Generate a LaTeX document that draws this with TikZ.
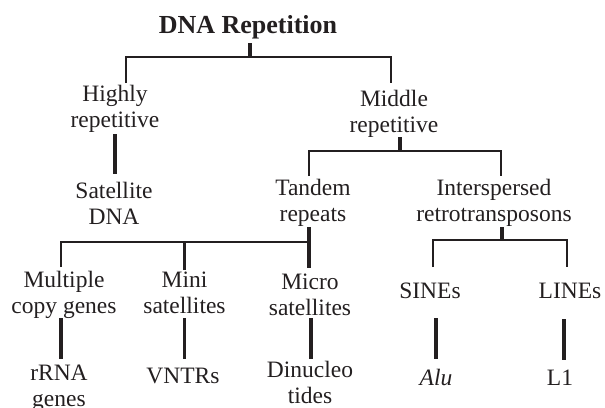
\documentclass[tikz,border=0pt]{standalone}
\usepackage{fontspec}
\setmainfont{Liberation Serif}
\definecolor{ink}{HTML}{231F20}
\newcommand\twol[2]{\vtop{\halign{\hfil##\hfil\cr #1\cr #2\cr}}}
\begin{document}
\begin{tikzpicture}[x=1pt,y=-1pt,color=ink,
  lab/.style={inner sep=0pt, outer sep=0pt, font=\fontsize{23.5}{26}\selectfont,
              text height=20pt, text depth=5pt, anchor=base},
  lab2/.style={lab, text depth=31pt},
  br/.style={line width=2.6pt, line join=miter},
  stem/.style={line width=3.8pt}]
\useasboundingbox (0,0) rectangle (605,407);

% nodes
\node[lab, font=\bfseries\fontsize{26}{30}\selectfont, text depth=10pt] (title) at (248,33) {DNA Repetition};
\node[lab2, text height=18pt, text depth=33pt] (hr) at (115,101) {\twol{Highly}{repetitive}};
\node[lab2, text height=23pt, text depth=31pt] (mr) at (394,106) {\twol{Middle}{repetitive}};
\node[lab2, text height=24pt] (sat) at (114,198) {\twol{Satellite}{DNA}};
\node[lab2, text height=19pt, text depth=32pt] (tan) at (313,195) {\twol{Tandem}{repeats}};
\node[lab2, text height=19pt, text depth=32pt] (int) at (494,195) {\twol{Interspersed}{retrotransposons}};
\node[lab2, text height=20pt] (mul) at (64,287) {\twol{Multiple}{copy genes}};
\node[lab2, text height=17pt] (mini) at (184.5,287) {\twol{Mini}{satellites}};
\node[lab2, text height=21pt, text depth=29pt] (mic) at (310,289) {\twol{Micro}{satellites}};
\node[lab, text height=31pt, text depth=20pt] (sines) at (430,298) {SINEs};
\node[lab, text height=31pt, text depth=21pt] (lines) at (570,298) {LINEs};
\node[lab2, text height=21pt] (rrna) at (59,380) {\twol{rRNA}{genes}};
\node[lab, text height=24pt] (vntr) at (183,383) {VNTRs};
\node[lab2, text height=18pt] (dinu) at (310,377) {\twol{Dinucleo}{tides}};
\node[lab, text height=26pt] (alu) at (436,385) {\textit{Alu}};
\node[lab, text height=25pt] (l1) at (560,385) {L1};

% junctions
\coordinate (j1) at (250,57);
\coordinate (j2) at (400,151);
\coordinate (j3) at (309,242);
\coordinate (j4) at (502,240);

% connectors
\draw[stem] (title.south -| j1) -- (j1);
\draw[br] ([xshift=11pt]hr.north) |- (j1) -| ([xshift=-3pt]mr.north);
\draw[stem] (hr.south) -- (hr.south |- sat.north);

\draw[stem] (mr.south -| j2) -- (j2);
\draw[br] ([xshift=-4pt]tan.north) |- (j2) -| ([xshift=7pt]int.north);

\draw[stem] ([xshift=-4pt]tan.south) -- ([xshift=-4pt]tan.south |- mic.north);
\draw[br] ([xshift=-3pt]mul.north) |- (j3);
\draw[br] (mini.north) -- (mini.north |- j3);

\draw[stem] (int.south -| j4) -- (j4);
\draw[br] ([xshift=3pt]sines.north) |- (j4) -| ([xshift=-3pt]lines.north);

\draw[stem] ([xshift=-3pt]mul.south) -- ([xshift=-3pt]mul.south |- rrna.north);
\draw[stem] (mini.south) -- (mini.south |- vntr.north);
\draw[stem] ([xshift=1pt]mic.south) -- ([xshift=1pt]mic.south |- dinu.north);
\draw[stem] ([xshift=6pt]sines.south) -- ([xshift=6pt]sines.south |- alu.north);
\draw[stem] ([xshift=-6pt]lines.south) -- ([xshift=-6pt]lines.south |- l1.north);
\end{tikzpicture}
\end{document}
